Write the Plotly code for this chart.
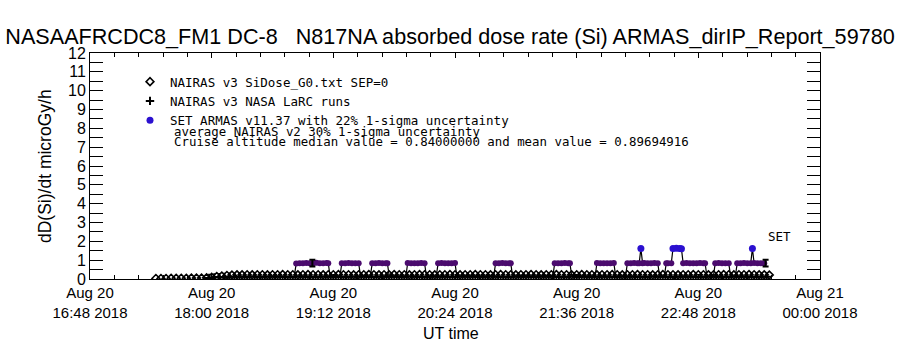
import pandas as pd
import plotly.graph_objects as go

DAY = "2018-08-20 "

# ---------------- data ----------------
# NAIRAS v3 SiDose_G0 (diamonds), sampled every 3 min from 17:27
nairas_sidose_start = DAY + "17:27"
nairas_sidose = [
    0.03, 0.03, 0.03, 0.04, 0.04, 0.04, 0.04, 0.05, 0.05, 0.05, 0.06,
    0.09, 0.13, 0.16, 0.19,
    0.21, 0.22, 0.22, 0.23, 0.22, 0.23, 0.23, 0.22, 0.23, 0.23,
    0.24, 0.23, 0.23, 0.22, 0.23, 0.24, 0.23, 0.23, 0.22, 0.23,
    0.23, 0.24, 0.23, 0.23, 0.22, 0.23, 0.23, 0.24, 0.23, 0.22,
    0.23, 0.23, 0.24, 0.23, 0.23, 0.22, 0.23, 0.24, 0.23, 0.23,
    0.22, 0.23, 0.23, 0.24, 0.23, 0.22, 0.23, 0.23, 0.24, 0.23,
    0.23, 0.22, 0.23, 0.24, 0.23, 0.23, 0.22, 0.23, 0.23, 0.24,
    0.23, 0.22, 0.23, 0.23, 0.24, 0.23, 0.23, 0.22, 0.23, 0.24,
    0.23, 0.23, 0.22, 0.23, 0.23, 0.24, 0.23, 0.22, 0.23, 0.23,
    0.24, 0.23, 0.23, 0.22, 0.23, 0.24, 0.23, 0.23, 0.22, 0.23,
    0.23, 0.24, 0.23, 0.23, 0.22, 0.23, 0.23, 0.24, 0.23, 0.22,
    0.23, 0.23, 0.24, 0.23, 0.22, 0.22, 0.21,
]

# NAIRAS v3 NASA LaRC runs (+), sampled every 3 min from 17:58:30
nairas_larc_start = DAY + "17:58:30"
nairas_larc = [
    0.05, 0.08, 0.10, 0.11,
    0.12, 0.12, 0.13, 0.12, 0.13, 0.13, 0.12, 0.13, 0.13, 0.14,
    0.13, 0.13, 0.12, 0.13, 0.14, 0.13, 0.13, 0.12, 0.13, 0.13,
    0.14, 0.13, 0.13, 0.12, 0.13, 0.13, 0.14, 0.13, 0.12, 0.13,
    0.13, 0.14, 0.13, 0.13, 0.12, 0.13, 0.14, 0.13, 0.13, 0.12,
    0.13, 0.13, 0.14, 0.13, 0.12, 0.13, 0.13, 0.14, 0.13, 0.13,
    0.12, 0.13, 0.14, 0.13, 0.13, 0.12, 0.13, 0.13, 0.14, 0.13,
    0.12, 0.13, 0.13, 0.14, 0.13, 0.13, 0.12, 0.13, 0.14, 0.13,
    0.13, 0.12, 0.13, 0.13, 0.14, 0.13, 0.12, 0.13, 0.13, 0.14,
    0.13, 0.13, 0.12, 0.13, 0.14, 0.13, 0.13, 0.12, 0.13, 0.13,
    0.14, 0.13, 0.13, 0.12, 0.13, 0.13, 0.14, 0.13, 0.12, 0.13,
    0.13, 0.14, 0.13, 0.13, 0.12, 0.13, 0.12,
]

# SET ARMAS v11.37 measurements (UT time, dose rate)
armas_time = [
    "18:49", "18:50", "18:52", "18:54", "18:56", "18:58", "19:00", "19:02", "19:04", "19:06", "19:08", "19:09", "19:10",
    "19:16", "19:17", "19:19", "19:21", "19:23", "19:25", "19:27", "19:28",
    "19:34", "19:35", "19:37", "19:39", "19:41", "19:43", "19:44", "19:45",
    "19:55", "19:56", "19:58", "20:00", "20:02", "20:04", "20:06", "20:07",
    "20:13", "20:14", "20:16", "20:18", "20:20", "20:22", "20:24", "20:25",
    "20:47", "20:48", "20:50", "20:52", "20:54", "20:56", "20:57", "20:58",
    "21:22", "21:23", "21:25", "21:27", "21:29", "21:31", "21:32", "21:33",
    "21:47", "21:48", "21:50", "21:52", "21:54", "21:56", "21:58", "21:59",
    "22:05", "22:06", "22:08", "22:10", "22:12", "22:13", "22:14", "22:15", "22:16", "22:18", "22:20", "22:22", "22:24", "22:25",
    "22:28", "22:29", "22:30", "22:32", "22:33", "22:35", "22:37", "22:38", "22:39", "22:41", "22:43", "22:45", "22:47", "22:49", "22:51", "22:52", "22:53",
    "22:57", "22:58", "23:00", "23:02", "23:04", "23:06", "23:07",
    "23:10", "23:11", "23:13", "23:15", "23:17", "23:19", "23:20", "23:21", "23:23", "23:25", "23:27",
]
armas_dose = [
    0.20, 0.82, 0.84, 0.83, 0.85, 0.84, 0.84, 0.86, 0.83, 0.84, 0.85, 0.84, 0.20,
    0.20, 0.83, 0.84, 0.85, 0.84, 0.83, 0.84, 0.20,
    0.20, 0.84, 0.83, 0.85, 0.84, 0.84, 0.83, 0.20,
    0.20, 0.85, 0.84, 0.83, 0.84, 0.85, 0.84, 0.20,
    0.20, 0.84, 0.85, 0.84, 0.83, 0.84, 0.85, 0.20,
    0.20, 0.83, 0.84, 0.85, 0.84, 0.84, 0.83, 0.20,
    0.20, 0.84, 0.83, 0.84, 0.85, 0.84, 0.84, 0.20,
    0.20, 0.85, 0.84, 0.84, 0.83, 0.84, 0.85, 0.20,
    0.20, 0.84, 0.83, 0.85, 0.84, 0.84, 1.62, 0.84, 0.85, 0.83, 0.84, 0.85, 0.84, 0.20,
    0.20, 0.84, 0.83, 0.84, 1.62, 1.63, 1.62, 1.61, 0.84, 0.85, 0.84, 0.83, 0.84, 0.85, 0.84, 0.84, 0.20,
    0.20, 0.84, 0.85, 0.84, 0.83, 0.84, 0.20,
    0.20, 0.84, 0.83, 0.85, 0.84, 0.84, 1.62, 0.85, 0.84, 0.83, 0.84,
]

# uncertainty bars (average NAIRAS v2 30% 1-sigma)
unc_time = ["18:59:36", "23:27:48"]
unc_value = [0.84, 0.84]
unc_err = [0.18, 0.18]

# axis ticks
tick_times = [DAY + "16:48", DAY + "18:00", DAY + "19:12", DAY + "20:24",
              DAY + "21:36", DAY + "22:48", "2018-08-21 00:00"]
tick_labels = ["Aug 20<br>16:48 2018", "Aug 20<br>18:00 2018", "Aug 20<br>19:12 2018",
               "Aug 20<br>20:24 2018", "Aug 20<br>21:36 2018", "Aug 20<br>22:48 2018",
               "Aug 21<br>00:00 2018"]
y_ticks = list(range(0, 13))

cruise_median = 0.84000000
cruise_mean = 0.89694916

# ---------------- styling ----------------
W, H = 900, 350
L, R, T, B = 90, 80, 53, 71
PW, PH = W - L - R, H - T - B
FONT = "Liberation Sans, Arial, sans-serif"
LFONT = "DejaVu Sans Mono, monospace"
PURPLE = "#4b0b6e"
BLUE = "#2b10d0"
PEAK_THRESHOLD = 1.2


def px_x(px):
    return (px - L) / PW


def px_y(py):
    return 1 - (py - T) / PH


nairas_sidose_t = pd.date_range(nairas_sidose_start, periods=len(nairas_sidose), freq="3min")
nairas_larc_t = pd.date_range(nairas_larc_start, periods=len(nairas_larc), freq="3min")
armas_t = pd.to_datetime([DAY + t for t in armas_time])
unc_t = pd.to_datetime([DAY + t for t in unc_time])

armas_df = pd.DataFrame({"t": armas_t, "v": armas_dose})
cruise_pts = armas_df[(armas_df.v > 0.5) & (armas_df.v < PEAK_THRESHOLD)]
peak_pts = armas_df[armas_df.v >= PEAK_THRESHOLD]

fig = go.Figure()

fig.add_trace(go.Scatter(
    x=nairas_sidose_t, y=nairas_sidose, mode="markers",
    name="NAIRAS v3 SiDose_G0.txt SEP=0",
    marker=dict(symbol="diamond-open", size=6, color="black", line=dict(width=1.6, color="black")),
))
fig.add_trace(go.Scatter(
    x=nairas_larc_t, y=nairas_larc, mode="markers",
    name="NAIRAS v3 NASA LaRC runs",
    marker=dict(symbol="cross-thin", size=6, color="black", line=dict(width=2, color="black")),
))
fig.add_trace(go.Scatter(
    x=armas_df.t, y=armas_df.v, mode="lines", showlegend=False,
    line=dict(color="black", width=1.2),
))
fig.add_trace(go.Scatter(
    x=cruise_pts.t, y=cruise_pts.v, mode="markers", showlegend=False,
    marker=dict(symbol="circle", size=6, color=PURPLE),
))
fig.add_trace(go.Scatter(
    x=peak_pts.t, y=peak_pts.v, mode="markers",
    name="SET ARMAS v11.37 with 22% 1-sigma uncertainty",
    marker=dict(symbol="circle", size=7, color=BLUE),
))
fig.add_trace(go.Scatter(
    x=unc_t, y=unc_value, mode="markers", showlegend=False,
    marker=dict(size=1, color="black"),
    error_y=dict(type="data", array=unc_err, color="black", thickness=2, width=3),
))

fig.update_layout(
    width=W, height=H,
    margin=dict(l=L, r=R, t=T, b=B),
    paper_bgcolor="white", plot_bgcolor="white",
    font=dict(family=FONT, color="black"),
    title=dict(
        text="NASAAFRCDC8_FM1 DC-8\u00a0\u00a0\u00a0N817NA absorbed dose rate (Si) ARMAS_dirIP_Report_59780",
        x=0.5, xref="container", xanchor="center",
        y=1 - 36 / H, yref="container", yanchor="middle",
        font=dict(size=21.6, family=FONT, color="black"),
    ),
    legend=dict(
        x=px_x(130), y=px_y(67), xanchor="left", yanchor="top",
        bgcolor="rgba(0,0,0,0)", borderwidth=0,
        font=dict(size=12.5, family=LFONT, color="black"),
        itemwidth=30,
    ),
    showlegend=True,
)

fig.update_xaxes(
    type="date",
    range=[tick_times[0], tick_times[-1]],
    tickmode="array", tickvals=tick_times, ticktext=tick_labels,
    ticks="inside", ticklen=5, tickcolor="black", tickwidth=1,
    showline=True, linecolor="black", linewidth=1, mirror="ticks",
    showgrid=False, zeroline=False,
    tickfont=dict(size=15, family=FONT, color="black"),
    minor=dict(ticks="inside", ticklen=4, tickcolor="black",
               tick0=tick_times[0], dtick=864000, showgrid=False),
)
fig.update_yaxes(
    range=[0, 12],
    tickmode="array", tickvals=y_ticks, ticktext=[str(v) for v in y_ticks],
    ticks="inside", ticklen=13, tickcolor="black", tickwidth=1,
    showline=True, linecolor="black", linewidth=1, mirror="ticks",
    showgrid=False, zeroline=False,
    tickfont=dict(size=16, family=FONT, color="black"),
    minor=dict(ticks="inside", ticklen=13, tickcolor="black", dtick=0.5, tick0=0, showgrid=False),
)

fig.add_annotation(
    text="dD(Si)/dt microGy/h", textangle=-90,
    x=px_x(45), y=0.5, xref="paper", yref="paper",
    xanchor="center", yanchor="middle", showarrow=False,
    font=dict(size=17.5, family=FONT, color="black"),
)
fig.add_annotation(
    text="UT time", x=px_x(451), y=px_y(333), xref="paper", yref="paper",
    xanchor="center", yanchor="middle", showarrow=False,
    font=dict(size=16, family=FONT, color="black"),
)
fig.add_annotation(
    text="average NAIRAS v2 30% 1-sigma uncertainty",
    x=px_x(172), y=px_y(131), xref="paper", yref="paper",
    xanchor="left", yanchor="middle", showarrow=False,
    font=dict(size=12.4, family=LFONT, color="black"),
)
fig.add_annotation(
    text=f"Cruise altitude median value = {cruise_median:.8f} and mean value = {cruise_mean:.8f}",
    x=px_x(172), y=px_y(141), xref="paper", yref="paper",
    xanchor="left", yanchor="middle", showarrow=False,
    font=dict(size=12.4, family=LFONT, color="black"),
)
fig.add_annotation(
    text="SET", x=DAY + "23:28", y=2.25, xref="x", yref="y",
    xanchor="left", yanchor="middle", showarrow=False,
    font=dict(size=12.5, family=LFONT, color="black"),
)

fig.write_html("out.html")
